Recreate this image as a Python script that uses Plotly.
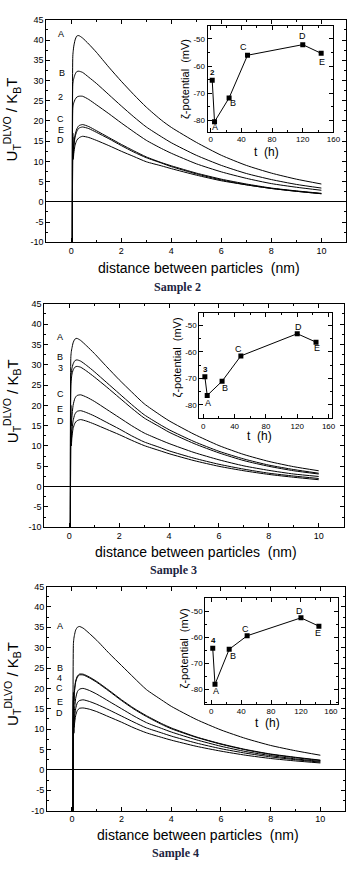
import plotly.graph_objects as go

W, H = 363, 871

# ---------------- data ----------------
dist_nm = [0.04, 0.06, 0.08, 0.1, 0.15, 0.22, 0.3, 0.45, 0.7, 1, 1.5, 2, 2.5, 3, 3.6, 4, 5, 6, 7, 8, 9, 10]

# Sample 2 curves (U_T^DLVO / kBT)
s2_A = [-15, 36, 37.5, 38.5, 40, 41, 41.1, 40.5, 39, 37, 33.3, 29.8, 26.5, 23.4, 20.2, 18.4, 14.7, 11.5, 9.0, 7.1, 5.6, 4.4]
s2_B = [-15, 29, 30, 30.5, 31.5, 32.2, 32.3, 32, 30.8, 29.3, 26.5, 23.7, 21, 18.5, 16.1, 14.6, 11.5, 9.0, 7.0, 5.5, 4.3, 3.4]
s2_2 = [-15, 23, 24, 24.5, 25.3, 25.9, 26.1, 26.1, 25.3, 24, 21.8, 19.5, 17.3, 15.2, 13.2, 12, 9.4, 7.4, 5.8, 4.5, 3.6, 2.85]
s2_C = [-15, 17, 12, 14, 16.5, 18, 18.8, 19.1, 18.6, 17.6, 15.9, 14.2, 12.6, 11.1, 9.7, 8.9, 7.1, 5.6, 4.4, 3.4, 2.7, 2.1]
s2_E = [-15, 16, 11, 13.5, 16, 17.4, 18.2, 18.5, 18.1, 17.2, 15.6, 13.9, 12.3, 10.9, 9.6, 8.7, 6.9, 5.4, 4.2, 3.3, 2.6, 2.0]
s2_D = [-15, 14, 10.5, 12, 14, 15.2, 15.8, 16.2, 15.9, 15.2, 13.9, 12.5, 11.2, 9.9, 8.9, 8.2, 6.6, 5.2, 4.2, 3.3, 2.6, 2.0]

# Sample 3 curves
s3_A = [-15, 32, 33.3, 34, 35.4, 36.3, 36.5, 36, 34.6, 32.8, 29.5, 26.3, 23.3, 20.4, 17.8, 16.2, 12.9, 10.1, 7.9, 6.2, 4.9, 3.9]
s3_B = [-15, 27, 28.2, 29, 30.2, 31, 31.2, 30.9, 29.8, 28.3, 25.6, 22.9, 20.2, 17.7, 15.4, 14.0, 11.1, 8.7, 6.8, 5.3, 4.2, 3.3]
s3_3 = [-15, 25, 26.5, 27.5, 28.7, 29.4, 29.6, 29.4, 28.4, 27, 24.5, 21.9, 19.3, 16.9, 14.8, 13.4, 10.6, 8.3, 6.4, 5, 3.9, 3.1]
s3_C = [-15, 20, 15, 17, 20, 21.7, 22.4, 22.6, 22, 21, 19, 17, 15, 13.2, 11.6, 10.6, 8.4, 6.6, 5.1, 4, 3.1, 2.5]
s3_E = [-15, 16, 11, 13.5, 16.2, 17.8, 18.5, 18.7, 18.2, 17.4, 15.8, 14.2, 12.5, 11.0, 9.7, 8.8, 7.0, 5.5, 4.3, 3.3, 2.6, 2.0]
s3_D = [-15, 14, 10, 12, 14.3, 15.6, 16.2, 16.5, 16.1, 15.4, 14.1, 12.8, 11.4, 10.1, 8.9, 8.1, 6.4, 5.0, 3.9, 3, 2.3, 1.7]

# Sample 4 curves
s4_A = [-15, 31, 32.3, 33, 34.3, 35, 35.2, 34.8, 33.5, 31.8, 28.6, 25.6, 22.6, 19.7, 17.2, 15.6, 12.4, 9.8, 7.7, 6, 4.7, 3.6]
s4_B = [-15, 19, 17, 19.5, 21.8, 23, 23.5, 23.5, 22.8, 21.7, 19.5, 17.2, 15.1, 13.3, 11.4, 10.3, 8.1, 6.4, 5, 3.9, 3.1, 2.4]
s4_4 = [-15, 18, 16, 19, 21.5, 22.8, 23.3, 23.3, 22.6, 21.5, 19.3, 17, 14.9, 13.1, 11.2, 10.1, 8.0, 6.3, 4.9, 3.8, 3.0, 2.3]
s4_C = [-15, 17, 12, 14.5, 17.5, 19.2, 19.8, 20, 19.5, 18.6, 16.8, 15, 13.2, 11.6, 10.2, 9.3, 7.4, 5.8, 4.5, 3.5, 2.7, 2.1]
s4_E = [-15, 15, 10.5, 12.5, 15, 16.5, 17, 17.2, 16.8, 16.1, 14.7, 13.2, 11.7, 10.3, 9.1, 8.3, 6.6, 5.2, 4.1, 3.2, 2.5, 1.9]
s4_D = [-15, 13, 9, 11, 13.3, 14.6, 15.1, 15.2, 14.9, 14.3, 13, 11.7, 10.3, 9.1, 8.0, 7.3, 5.8, 4.6, 3.6, 2.8, 2.2, 1.7]

# curve labels: (text, x, y)
s2_curve_labels = [("A", -0.43, 41.5), ("B", -0.37, 31.8), ("2", -0.43, 25.8), ("C", -0.43, 20.4), ("E", -0.43, 17.8), ("D", -0.43, 15.4)]
s3_curve_labels = [("A", -0.37, 36.9), ("B", -0.37, 31.8), ("3", -0.37, 29.2), ("C", -0.35, 22.9), ("E", -0.37, 19.1), ("D", -0.35, 16.1)]
s4_curve_labels = [("A", -0.49, 35.2), ("B", -0.49, 24.9), ("4", -0.49, 22.5), ("C", -0.49, 20.0), ("E", -0.49, 16.6), ("D", -0.49, 13.9)]

# insets: zeta potential vs time
time_h = [2, 5, 24, 48, 120, 144]
zeta_s2 = [-65.2, -80.5, -71.7, -56.0, -52.1, -55.3]
zeta_s3 = [-69.4, -76.5, -71.1, -61.5, -53.1, -56.3]
zeta_s4 = [-64.2, -78.1, -64.6, -59.4, -52.5, -55.7]
s2_point_labels = [("2", 2, -62.4), ("A", 5, -82.3), ("B", 29.5, -73.5), ("C", 42.8, -53.0), ("D", 120.3, -49.0), ("E", 145, -58.4)]
s3_point_labels = [("3", 2.7, -66.5), ("A", 5.9, -79.2), ("B", 27.3, -73.6), ("C", 45, -58.8), ("D", 121, -50.6), ("E", 145.5, -58.4)]
s4_point_labels = [("4", 2.5, -61.2), ("A", 6.3, -80.6), ("B", 29.5, -67.1), ("C", 45.6, -56.6), ("D", 118, -49.8), ("E", 143, -58.2)]

main_yticks = [-10, -5, 0, 5, 10, 15, 20, 25, 30, 35, 40, 45]
main_yticktext = ["-10", "-5", "0", "5", "10", "15", "20", "25", "30", "35", "40", "45"]
main_xticks = [0, 2, 4, 6, 8, 10]
inset_yticks = [-80, -70, -60, -50]
inset_yticktext = ["-80", "-70", "-60", "-50"]
inset_xticks = [0, 40, 80, 120, 160]

sample_titles = ["Sample 2", "Sample 3", "Sample 4"]

# ---------------- layout geometry (pixels) ----------------
SANS = "Arial, Liberation Sans, sans-serif"
SERIF = "Times New Roman, Liberation Serif, serif"


def px(x):
    return x / W


def py(y):
    return 1 - y / H


panels = [
    dict(curves=[s2_A, s2_B, s2_2, s2_C, s2_E, s2_D], clabels=s2_curve_labels, zeta=zeta_s2, plabels=s2_point_labels,
         main=(47.2, 353.2, 15, 240), inset=(211.7, 340, 21.7, 128.3), irx=[-4, 160], iry=[-84.2, -45.4],
         ytitle=(12, 116), xtitle=(203, 266.5), stitle=(181, 285), ztitle=(188.5, 75), ttitle=(272, 149)),
    dict(curves=[s3_A, s3_B, s3_3, s3_C, s3_E, s3_D], clabels=s3_curve_labels, zeta=zeta_s3, plabels=s3_point_labels,
         main=(45.3, 350.4, 302.3, 528.3), inset=(203.3, 339, 311.7, 417.7), irx=[-5, 165], iry=[-85.0, -45.3],
         ytitle=(12, 401), xtitle=(200, 553.3), stitle=(177, 571.7), ztitle=(180, 357), ttitle=(265, 435.7)),
    dict(curves=[s4_A, s4_B, s4_4, s4_C, s4_E, s4_D], clabels=s4_curve_labels, zeta=zeta_s4, plabels=s4_point_labels,
         main=(48.0, 352.0, 588.3, 815), inset=(209.3, 345, 600, 706.7), irx=[-8, 170], iry=[-85.5, -44.9],
         ytitle=(12, 687), xtitle=(201.7, 840), stitle=(178.5, 858.3), ztitle=(187.5, 651), ttitle=(273, 726.7)),
]

fig = go.Figure()
layout = dict(width=W, height=H, margin=dict(l=0, r=0, t=0, b=0), showlegend=False,
              paper_bgcolor="white", plot_bgcolor="white")
annotations = []


def axis_style(size):
    return dict(showline=True, linecolor="black", linewidth=1, mirror="allticks",
                ticks="inside", ticklen=4, tickwidth=1, tickcolor="black",
                showgrid=False, zeroline=False,
                tickfont=dict(family=SANS, size=size, color="black"))


def paper_text(text, x, y, size, family=SANS, angle=0, color="black"):
    return dict(text=text, x=px(x), y=py(y), xref="paper", yref="paper", showarrow=False,
                xanchor="center", yanchor="middle", textangle=angle,
                font=dict(family=family, size=size, color=color))


for i, p in enumerate(panels):
    mi = 2 * i + 1
    ii = 2 * i + 2
    mx = "x" if mi == 1 else f"x{mi}"
    my = "y" if mi == 1 else f"y{mi}"
    ix, iy = f"x{ii}", f"y{ii}"
    mxk = "xaxis" if mi == 1 else f"xaxis{mi}"
    myk = "yaxis" if mi == 1 else f"yaxis{mi}"

    l, r, t, b = p["main"]
    xa = axis_style(9)
    xa.update(domain=[px(l), px(r)], range=[-1, 11], anchor=my, tickvals=main_xticks,
              minor=dict(ticks="inside", ticklen=2, tickcolor="black", tickmode="linear", tick0=0, dtick=1))
    ya = axis_style(9)
    ya.update(domain=[py(b), py(t)], range=[-10, 45], anchor=mx, tickvals=main_yticks, ticktext=main_yticktext,
              zeroline=True, zerolinecolor="black", zerolinewidth=1,
              minor=dict(ticks="inside", ticklen=2, tickcolor="black", tickmode="linear", tick0=0, dtick=2.5))
    layout[mxk] = xa
    layout[myk] = ya

    for c in p["curves"]:
        fig.add_trace(go.Scatter(x=dist_nm, y=c, mode="lines",
                                 line=dict(color="black", width=1, shape="spline", smoothing=0.6),
                                 xaxis=mx, yaxis=my, hoverinfo="skip"))
    for txt, lx, ly in p["clabels"]:
        annotations.append(dict(text=txt, x=lx, y=ly, xref=mx, yref=my, showarrow=False,
                                xanchor="center", yanchor="middle",
                                font=dict(family=SANS, size=9, color="black")))

    l2, r2, t2, b2 = p["inset"]
    xa2 = axis_style(8)
    xa2.update(domain=[px(l2), px(r2)], range=p["irx"], anchor=iy, tickvals=inset_xticks,
               minor=dict(ticks="inside", ticklen=2, tickcolor="black", tickmode="linear", tick0=0, dtick=20))
    ya2 = axis_style(8)
    ya2.update(domain=[py(b2), py(t2)], range=p["iry"], anchor=ix, tickvals=inset_yticks, ticktext=inset_yticktext,
               minor=dict(ticks="inside", ticklen=2, tickcolor="black", tickmode="linear", tick0=0, dtick=5))
    layout[f"xaxis{ii}"] = xa2
    layout[f"yaxis{ii}"] = ya2

    fig.add_trace(go.Scatter(x=time_h, y=p["zeta"], mode="lines+markers",
                             line=dict(color="black", width=1),
                             marker=dict(symbol="square", size=5, color="black"),
                             xaxis=ix, yaxis=iy, hoverinfo="skip"))
    for j, (txt, lx, ly) in enumerate(p["plabels"]):
        annotations.append(dict(text=f"<b>{txt}</b>" if j == 0 else txt, x=lx, y=ly, xref=ix, yref=iy,
                                showarrow=False, xanchor="center", yanchor="middle",
                                font=dict(family=SANS, size=8 if j == 0 else 9, color="black")))

    yx, yy = p["ytitle"]
    annotations.append(paper_text("U<sub>T</sub><sup>DLVO</sup> / K<sub>B</sub>T", yx, yy, 15, angle=-90))
    tx, ty = p["xtitle"]
    annotations.append(paper_text("distance between particles  (nm)", tx, ty, 14))
    sx, sy = p["stitle"]
    annotations.append(paper_text(f"<b>{sample_titles[i]}</b>", sx, sy, 12, family=SERIF, color="#1c2440"))
    zx, zy = p["ztitle"]
    annotations.append(paper_text("ζ-potential  (mV)", zx, zy, 11, angle=-90))
    hx, hy = p["ttitle"]
    annotations.append(paper_text("t  (h)", hx, hy, 12))

layout["annotations"] = annotations
fig.update_layout(**layout)
fig.write_html("out.html", config={"displayModeBar": False},
               post_script="document.body.style.margin='0';")
